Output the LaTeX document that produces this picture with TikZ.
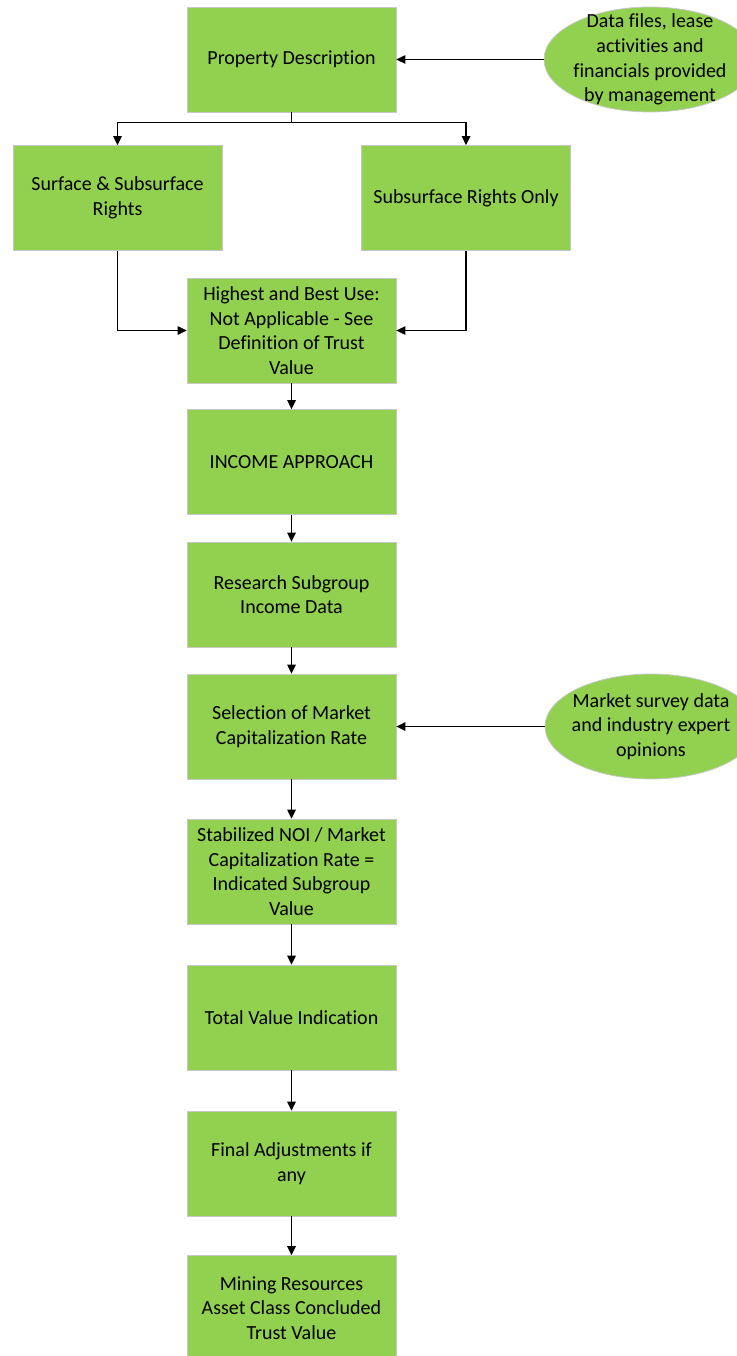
\documentclass[tikz,border=0pt]{standalone}
\usepackage{fontspec}
\setmainfont{Carlito}[Ligatures=NoCommon]
\usetikzlibrary{arrows.meta,shapes.geometric}
\definecolor{boxgreen}{HTML}{92D050}
\definecolor{boxline}{HTML}{C8C8C8}
\tikzset{
  stepbox/.style={rectangle,draw=boxline,line width=0.8pt,fill=boxgreen,minimum width=209pt,minimum height=105pt,inner sep=2pt,align=center,font=\fontsize{20}{24.6}\selectfont},
  inputell/.style={ellipse,draw=boxline,line width=0.8pt,fill=boxgreen,minimum width=212pt,minimum height=105pt,inner sep=0pt},
  elltext/.style={align=center,font=\fontsize{20}{24.6}\selectfont},
  arr/.style={draw=black,line width=1.4pt,-{Triangle[length=9pt,width=8.5pt]}}
}
\begin{document}
\begin{tikzpicture}[x=1pt,y=-1pt]
\useasboundingbox (0,0) rectangle (736,1356);
\node[stepbox] (pd) at (291.5,59.5) {Property Description};
\node[inputell,label={[elltext]center:{Data files, lease\\activities and\\financials provided\\by management}}] (e1) at (650,59.5) {};
\node[stepbox] (sr) at (117.5,198) {Surface \& Subsurface\\Rights};
\node[stepbox] (so) at (466,198) {Subsurface Rights Only};
\node[stepbox] (hb) at (291.5,330.5) {Highest and Best Use:\\Not Applicable - See\\Definition of Trust\\Value};
\node[stepbox] (ia) at (291.5,462) {INCOME APPROACH};
\node[stepbox] (rs) at (291.5,594.5) {Research Subgroup\\Income Data};
\node[stepbox] (sm) at (291.5,726.5) {Selection of Market\\Capitalization Rate};
\node[inputell,label={[elltext]center:{Market survey data\\and industry expert\\opinions}}] (e2) at (651,726.5) {};
\node[stepbox] (sn) at (291.5,871.5) {Stabilized NOI / Market\\Capitalization Rate =\\Indicated Subgroup\\Value};
\node[stepbox] (tv) at (291.5,1017.5) {Total Value Indication};
\node[stepbox] (fa) at (291.5,1163.5) {Final Adjustments if\\any};
\node[stepbox] (mr) at (291.5,1308) {Mining Resources\\Asset Class Concluded\\Trust Value};
\draw[arr] (e1.west) -- (pd.east);
\draw[arr] (pd.south) -- ++(0,10) -| (sr.north);
\draw[arr] (pd.south) -- ++(0,10) -| (so.north);
\draw[arr] (sr.south) |- (hb.west);
\draw[arr] (so.south) |- (hb.east);
\draw[arr] (hb.south) -- (ia.north);
\draw[arr] (ia.south) -- (rs.north);
\draw[arr] (rs.south) -- (sm.north);
\draw[arr] (e2.west) -- (sm.east);
\draw[arr] (sm.south) -- (sn.north);
\draw[arr] (sn.south) -- (tv.north);
\draw[arr] (tv.south) -- (fa.north);
\draw[arr] (fa.south) -- (mr.north);
\end{tikzpicture}
\end{document}
